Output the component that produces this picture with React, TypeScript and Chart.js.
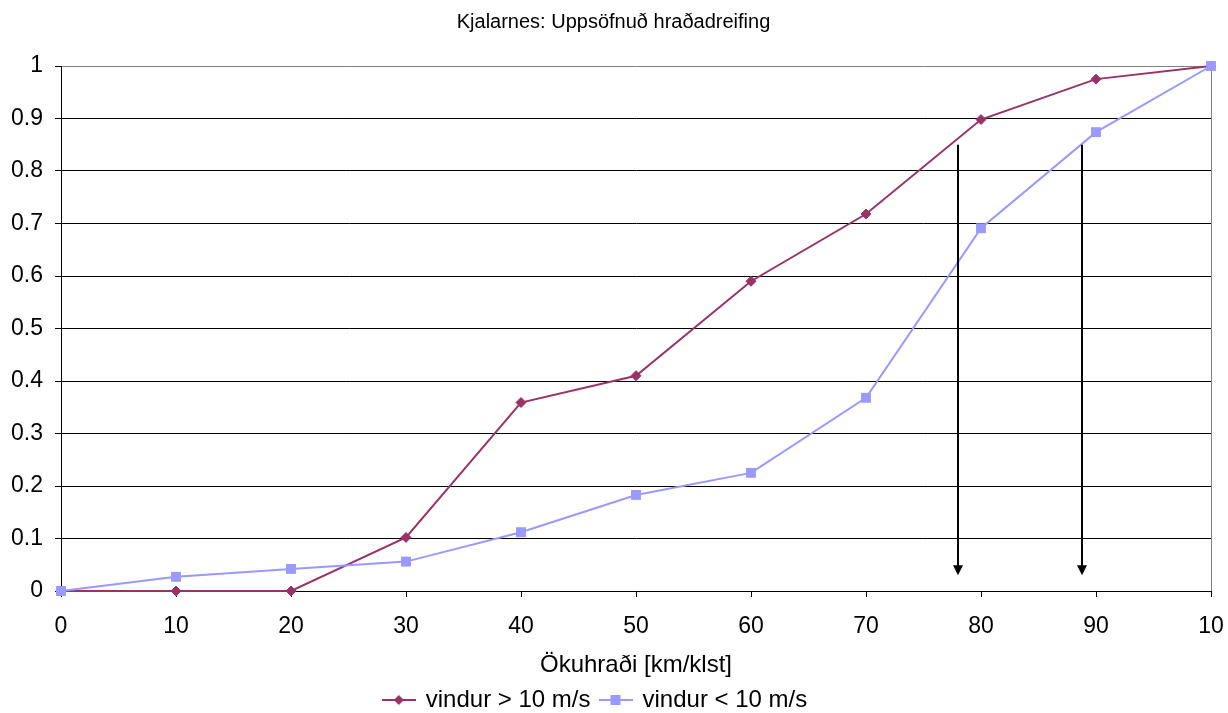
import React, { useEffect, useRef } from 'react';
import { Chart, registerables } from 'chart.js';

Chart.register(...registerables);

const chartTitle = 'Kjalarnes: Uppsöfnuð hraðadreifing';
const xAxisTitle = 'Ökuhraði [km/klst]';
const speeds = [0, 10, 20, 30, 40, 50, 60, 70, 80, 90, 100];
const xTickLabels = ['0', '10', '20', '30', '40', '50', '60', '70', '80', '90', '10'];
const seriesNames = ['vindur > 10 m/s', 'vindur < 10 m/s'];
const windAbove10 = [0, 0, 0, 0.102, 0.359, 0.41, 0.59, 0.718, 0.898, 0.975, 1];
const windBelow10 = [0, 0.027, 0.042, 0.056, 0.112, 0.183, 0.225, 0.368, 0.691, 0.874, 1];
const arrowSpeeds = [78, 88.8];
const arrowFrom = [0.85, 0.85];
const arrowTo = [0.03, 0.03];

const FONT = "'Liberation Sans', Arial, sans-serif";
const MAROON = '#993366';
const LAVENDER = '#9999FF';

function makeLegendIcon(color: string, kind: 'diamond' | 'square') {
  const c = document.createElement('canvas');
  c.width = 34;
  c.height = 14;
  const g = c.getContext('2d')!;
  g.strokeStyle = color;
  g.fillStyle = color;
  g.lineWidth = 2;
  g.beginPath();
  g.moveTo(0, 7);
  g.lineTo(34, 7);
  g.stroke();
  if (kind === 'diamond') {
    g.beginPath();
    g.moveTo(17, 2);
    g.lineTo(22, 7);
    g.lineTo(17, 12);
    g.lineTo(12, 7);
    g.closePath();
    g.fill();
  } else {
    g.fillRect(12, 2, 10, 10);
  }
  return c;
}

const arrowPlugin = {
  id: 'arrows',
  afterDatasetsDraw(chart: any) {
    const { ctx } = chart;
    const x = chart.scales.x;
    const y = chart.scales.y;
    ctx.save();
    ctx.strokeStyle = '#000';
    ctx.fillStyle = '#000';
    ctx.lineWidth = 2;
    arrowSpeeds.forEach((v, i) => {
      const px = Math.round(x.getPixelForValue(v));
      const y0 = y.getPixelForValue(arrowFrom[i]);
      const y1 = y.getPixelForValue(arrowTo[i]);
      ctx.beginPath();
      ctx.moveTo(px, y0);
      ctx.lineTo(px, y1 - 9);
      ctx.stroke();
      ctx.beginPath();
      ctx.moveTo(px - 5, y1 - 10);
      ctx.lineTo(px + 5, y1 - 10);
      ctx.lineTo(px, y1);
      ctx.closePath();
      ctx.fill();
    });
    ctx.restore();
  },
};

const boxShift = {
  id: 'boxShift',
  afterLayout(chart: any) {
    const lg = chart.legend;
    if (lg) {
      lg.top += 9;
      lg.bottom += 9;
      lg.left -= 10;
      lg.right -= 10;
    }
    const tb = chart.titleBlock;
    if (tb) {
      tb.left += 8;
      tb.right += 8;
    }
  },
};

export default function App() {
  const ref = useRef<HTMLCanvasElement>(null);

  useEffect(() => {
    if (!ref.current) return;
    const icons = [makeLegendIcon(MAROON, 'diamond'), makeLegendIcon(LAVENDER, 'square')];
    const chart = new Chart(ref.current, {
      type: 'line',
      data: {
        datasets: [
          {
            label: seriesNames[0],
            data: speeds.map((s, i) => ({ x: s, y: windAbove10[i] })),
            borderColor: MAROON,
            backgroundColor: MAROON,
            pointBackgroundColor: MAROON,
            pointBorderColor: MAROON,
            pointStyle: 'rectRot',
            pointRadius: 5,
            pointBorderWidth: 1,
            borderWidth: 2,
            tension: 0,
            clip: false as any,
            order: 1,
          },
          {
            label: seriesNames[1],
            data: speeds.map((s, i) => ({ x: s, y: windBelow10[i] })),
            borderColor: LAVENDER,
            backgroundColor: LAVENDER,
            pointBackgroundColor: LAVENDER,
            pointBorderColor: LAVENDER,
            pointStyle: 'rect',
            pointRadius: 7,
            pointBorderWidth: 0,
            borderWidth: 2,
            tension: 0,
            clip: false as any,
            order: 0,
          },
        ],
      },
      options: {
        animation: false,
        responsive: true,
        maintainAspectRatio: false,
        layout: { padding: { left: 0, right: 17, top: 0, bottom: 0 } },
        plugins: {
          title: {
            display: true,
            text: chartTitle,
            color: '#000',
            font: { family: FONT, size: 20, weight: 'normal' },
            padding: { top: 10, bottom: 32 },
          },
          legend: {
            position: 'bottom',
            labels: {
              usePointStyle: true,
              pointStyleWidth: 30,
              color: '#000',
              font: { family: FONT, size: 24 },
              padding: 10,
              sort: (a: any, b: any) => a.datasetIndex - b.datasetIndex,
              generateLabels: (c: any) => {
                const items = (Chart.defaults.plugins.legend.labels as any).generateLabels(c);
                return items.map((it: any) => ({ ...it, pointStyle: icons[it.datasetIndex] }));
              },
            },
          },
          tooltip: { enabled: false },
        },
        scales: {
          x: {
            type: 'linear',
            min: 0,
            max: 100,
            ticks: {
              stepSize: 10,
              autoSkip: false,
              maxRotation: 0,
              color: '#000',
              font: { family: FONT, size: 23, lineHeight: 2.6 },
              padding: 0,
              callback: (v: any) => {
                const i = speeds.indexOf(Number(v));
                return i >= 0 ? xTickLabels[i] : '';
              },
            },
            grid: {
              color: (c: any) => (c.tick && Math.abs(c.tick.value - 100) < 1e-6 ? '#808080' : 'rgba(0,0,0,0)'),
              tickColor: '#000',
              tickLength: 6,
              lineWidth: 1,
            },
            border: { color: '#000', width: 1 },
            title: {
              display: true,
              text: xAxisTitle,
              color: '#000',
              font: { family: FONT, size: 24 },
              padding: { top: 0, bottom: -11 },
            },
            afterFit: (s: any) => {
              s.height = 78;
            },
          },
          y: {
            min: 0,
            max: 1,
            ticks: {
              stepSize: 0.1,
              color: '#000',
              font: { family: FONT, size: 23 },
              padding: 12,
              callback: (v: any) => String(Math.round(Number(v) * 10) / 10),
            },
            grid: {
              color: (c: any) => (c.tick && Math.abs(c.tick.value - 1) < 1e-6 ? '#808080' : '#000'),
              tickColor: '#000',
              tickLength: 6,
              lineWidth: 1,
            },
            border: { color: '#000', width: 1 },
            afterFit: (s: any) => {
              s.width = 61;
            },
          },
        },
      } as any,
      plugins: [arrowPlugin, boxShift],
    });
    return () => chart.destroy();
  }, []);

  return (
    <div style={{ position: 'fixed', left: 0, top: 0, width: 1228, height: 713, background: '#fff' }}>
      <canvas ref={ref} />
    </div>
  );
}
